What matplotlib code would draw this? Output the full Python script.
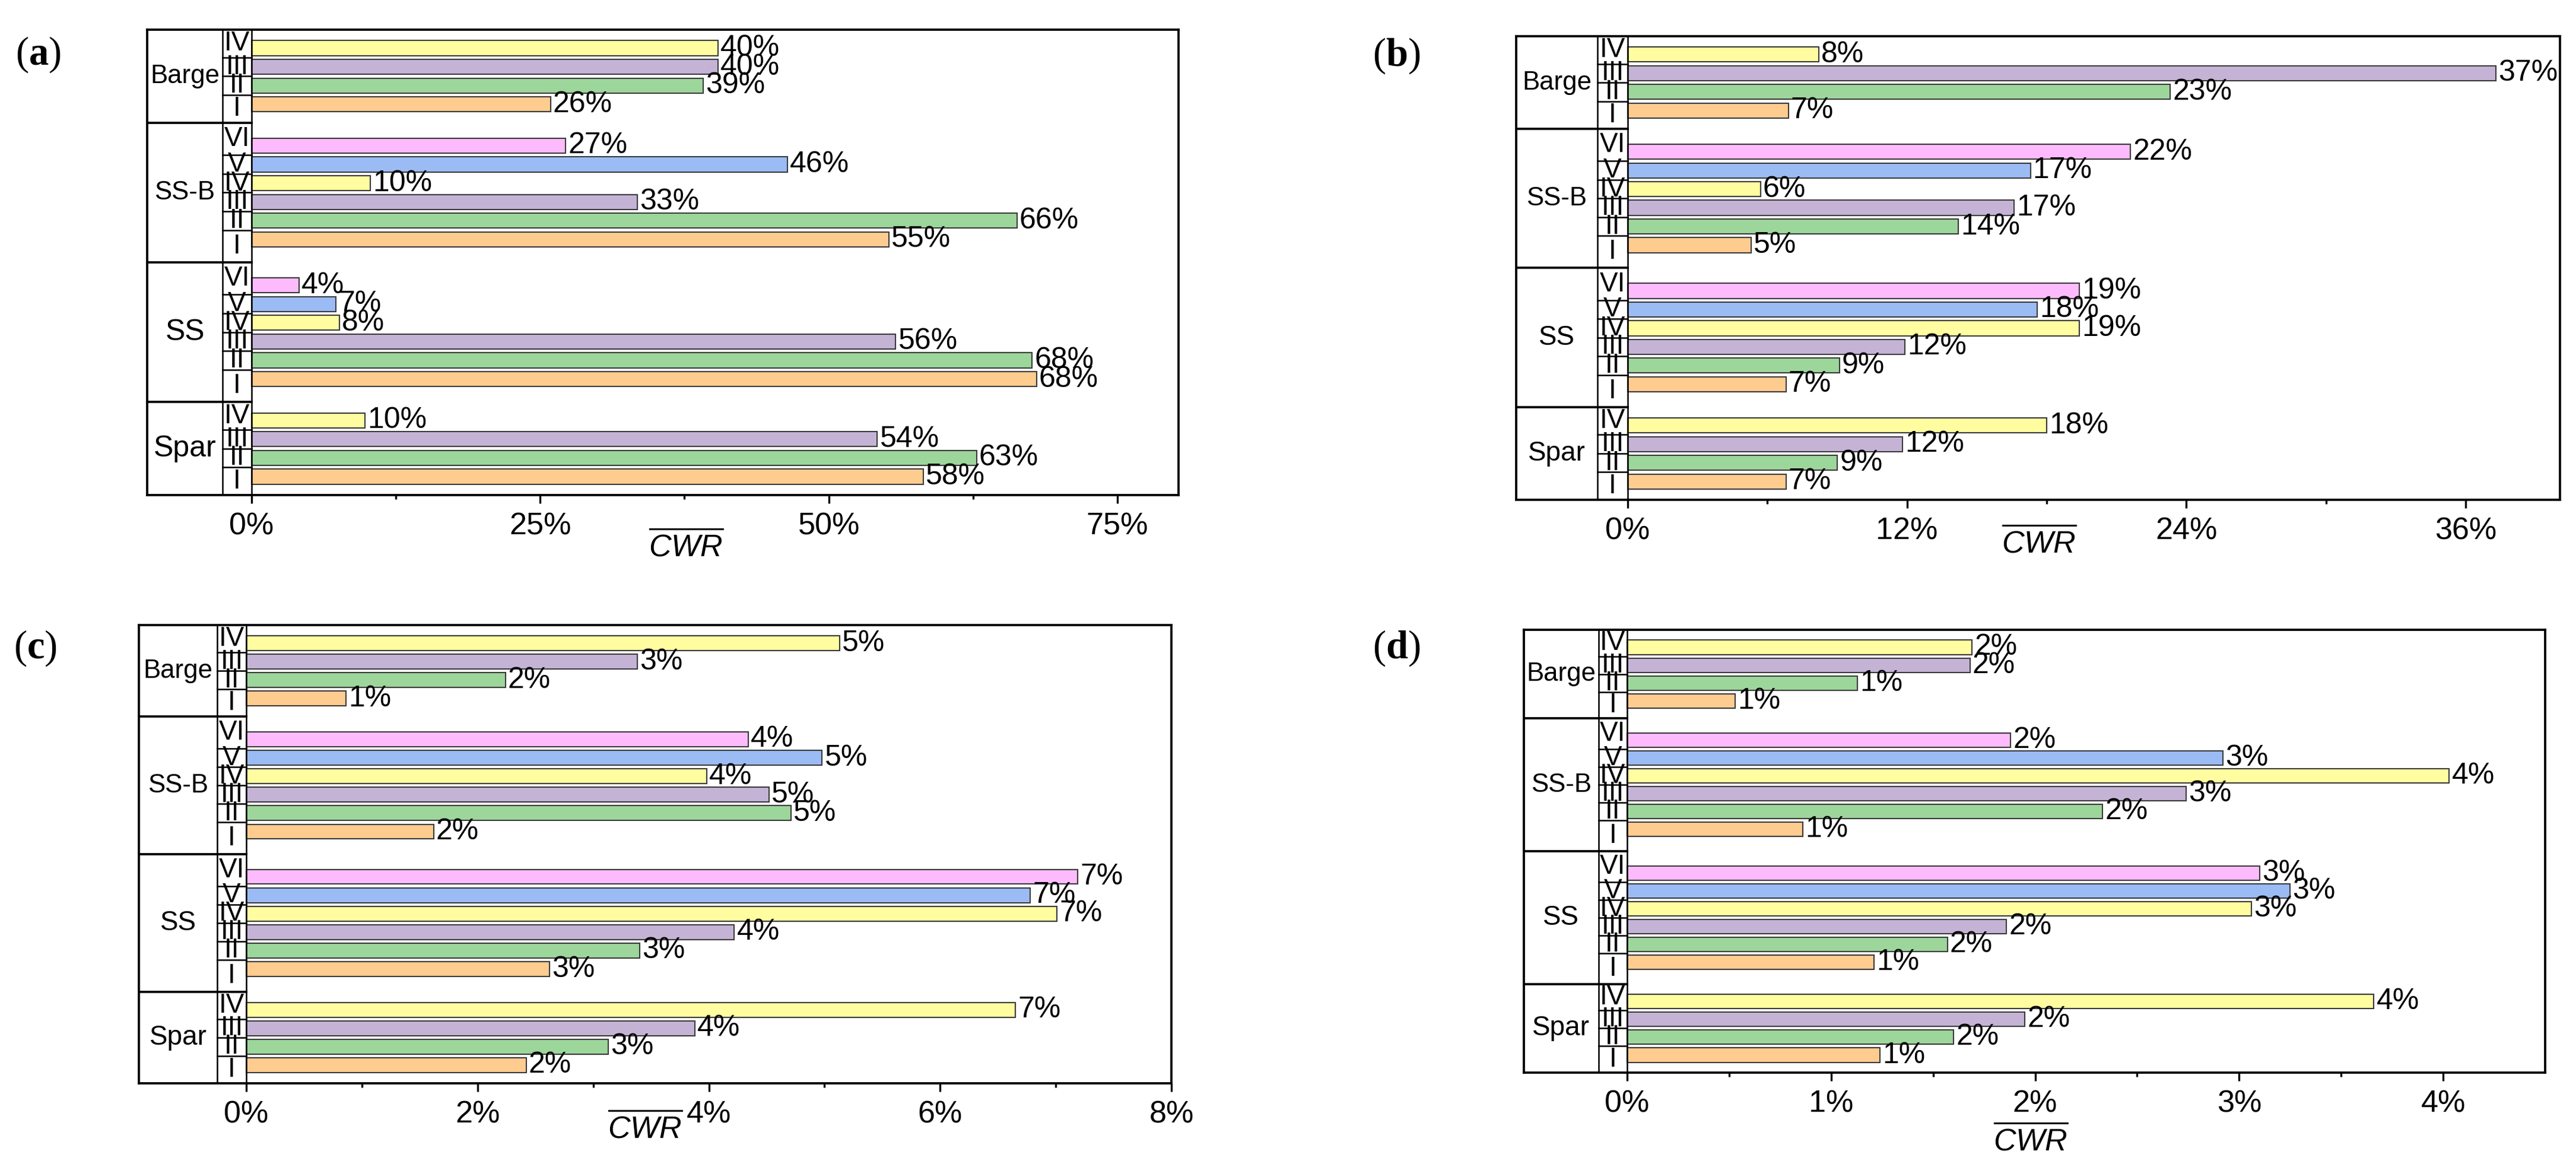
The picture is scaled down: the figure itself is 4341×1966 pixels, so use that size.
import matplotlib.pyplot as plt
import numpy as np

plt.rcParams['font.family'] = ['Liberation Sans', 'DejaVu Sans']
plt.rcParams['mathtext.fontset'] = 'custom'
plt.rcParams['mathtext.rm'] = 'Liberation Sans'
plt.rcParams['mathtext.it'] = 'Liberation Sans:italic'
plt.rcParams['mathtext.bf'] = 'Liberation Serif:bold'

# groups from bottom to top, cases I..VI inside each group
groups = ['Spar', 'SS', 'SS-B', 'Barge']
cases = ['I', 'II', 'III', 'IV', 'V', 'VI']
case_colors = ['#FFCC90', '#9DD69B', '#C5B3D6', '#FFFDA0', '#9BBBF5', '#FDBBFD']

# mean CWR in %, ordered I, II, III, ...
cwr_a = {
    'Spar': [58.2, 62.8, 54.2, 9.8],
    'SS': [68.0, 67.6, 55.8, 7.6, 7.3, 4.1],
    'SS-B': [55.2, 66.3, 33.4, 10.3, 46.4, 27.2],
    'Barge': [25.9, 39.1, 40.4, 40.4],
}
cwr_b = {
    'Spar': [6.8, 9.0, 11.8, 18.0],
    'SS': [6.8, 9.1, 11.9, 19.4, 17.6, 19.4],
    'SS-B': [5.3, 14.2, 16.6, 5.7, 17.3, 21.6],
    'Barge': [6.9, 23.3, 37.3, 8.2],
}
cwr_c = {
    'Spar': [2.42, 3.13, 3.88, 6.65],
    'SS': [2.62, 3.40, 4.22, 7.01, 6.78, 7.19],
    'SS-B': [1.62, 4.71, 4.52, 3.98, 4.98, 4.34],
    'Barge': [0.86, 2.24, 3.38, 5.13],
}
cwr_d = {
    'Spar': [1.24, 1.60, 1.95, 3.66],
    'SS': [1.21, 1.57, 1.86, 3.06, 3.25, 3.10],
    'SS-B': [0.86, 2.33, 2.74, 4.03, 2.92, 1.88],
    'Barge': [0.53, 1.13, 1.68, 1.69],
}

W, H = 4341, 1966
S = 1.24  # height of one case slot, bar pitch is 1

fig = plt.figure(figsize=(W / 300, H / 300), dpi=300)


def draw_panel(data, box, xlim, col_x, step, tag, tag_xy, lab_xy, gsize):
    left, top, right, bottom = box
    ax = fig.add_axes([left / W, 1 - bottom / H, (right - left) / W, (bottom - top) / H])
    total = sum(len(data[g]) for g in groups) * S
    y0 = 0
    for g in groups:
        vals = data[g]
        n = len(vals)
        gtop = y0 + n * S
        c = (y0 + gtop) / 2
        ys = c + np.arange(n) - (n - 1) / 2
        ax.barh(ys, vals, height=0.8, color=case_colors[:n],
                edgecolor='#3a3a3a', linewidth=0.5, zorder=2)
        for y, v in zip(ys, vals):
            ax.annotate(f'{v:.0f}%', (v, y), xytext=(1, 0), textcoords='offset points',
                        ha='left', va='center', fontsize=12, zorder=3)
        bounds = [y0] + list((ys[:-1] + ys[1:]) / 2) + [gtop]
        for b in bounds[1:-1]:
            ax.plot([col_x, 0], [b, b], color='k', lw=0.6, zorder=4)
        for k in range(n):
            ax.text(col_x / 2, (bounds[k] + bounds[k + 1]) / 2, cases[k],
                    ha='center', va='center', fontsize=11)
        ax.text((xlim[0] + col_x) / 2, c, g, ha='center', va='center',
                fontsize=gsize.get(g, 11))
        if gtop < total - 1e-6:
            ax.plot([xlim[0], 0], [gtop, gtop], color='k', lw=0.9, zorder=4)
        y0 = gtop
    ax.axvline(col_x, color='k', lw=0.6, zorder=4)
    ax.axvline(0, color='k', lw=0.6, zorder=4)
    ax.set_xlim(*xlim)
    ax.set_ylim(0, total)
    ax.set_yticks([])
    major = np.arange(0, xlim[1] + 1e-6, step)
    minor = np.arange(step / 2, xlim[1] - 1e-6, step)
    ax.set_xticks(major)
    ax.set_xticks(minor, minor=True)
    ax.set_xticklabels([f'{v:g}%' for v in major])
    ax.tick_params(axis='x', which='major', direction='out', length=3.4, width=0.8,
                   labelsize=12.5, pad=3.5)
    ax.tick_params(axis='x', which='minor', direction='out', length=1.7, width=0.8)
    for sp in ax.spines.values():
        sp.set_linewidth(0.9)
    fig.text(tag_xy[0] / W, 1 - tag_xy[1] / H, '($\\mathbf{' + tag + '}$)',
             family='Liberation Serif', fontsize=16, ha='center', va='center')
    fig.text(lab_xy[0] / W, 1 - lab_xy[1] / H, r'$\overline{CWR}$',
             fontsize=12.5, ha='center', va='center')
    return ax


draw_panel(cwr_a, (248, 50, 1986, 834), (-9.05, 80.3), -2.52, 25, 'a',
           (64, 92), (1156, 921), {'SS': 12, 'Spar': 12, 'Barge': 10.5, 'SS-B': 10.5})
draw_panel(cwr_b, (2555, 61, 4314, 842), (-4.79, 40.05), -1.3, 12, 'b',
           (2353, 94), (3436, 915), {'Barge': 10.5, 'SS-B': 10.5})
draw_panel(cwr_c, (234, 1053, 1974, 1825), (-0.929, 8.0), -0.251, 2, 'c',
           (60, 1092), (1087, 1901), {'Barge': 10.5, 'SS-B': 10.5})
draw_panel(cwr_d, (2568, 1061, 4289, 1807), (-0.506, 4.5), -0.14, 1, 'd',
           (2353, 1092), (3422, 1922), {'Barge': 10.5, 'SS-B': 10.5})

fig.savefig('out.png', dpi=300)
